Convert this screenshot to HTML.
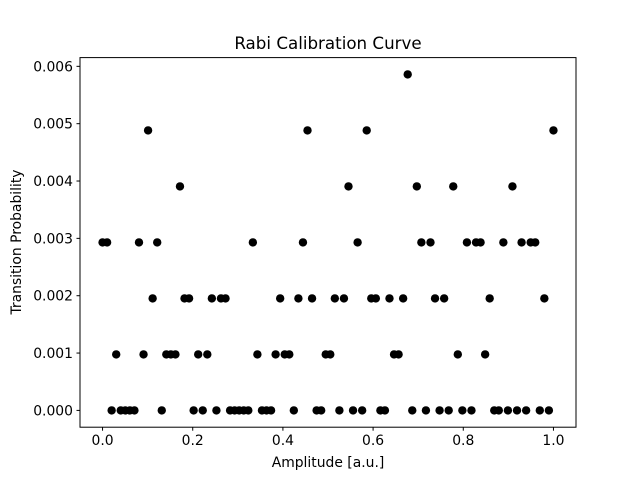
<!DOCTYPE html>
<html><head><meta charset="utf-8"><style>
html,body{margin:0;padding:0;background:#fff;}
svg{display:block;font-family:"DejaVu Sans","Liberation Sans",sans-serif;}
</style></head><body>
<svg id="chart" width="640" height="480" viewBox="0 0 640 480" xmlns="http://www.w3.org/2000/svg">
<rect width="640" height="480" fill="#fff"/>
<text x="328" y="49" text-anchor="middle" font-size="16.7">Rabi Calibration Curve</text>
<text x="328" y="467" text-anchor="middle" font-size="13.9">Amplitude [a.u.]</text>
<text transform="translate(21,242) rotate(-90)" text-anchor="middle" font-size="13.9">Transition Probability</text>
<g id="ticks"></g>
<g id="points"></g>
<rect x="80" y="57.6" width="496" height="369.6" fill="none" stroke="#000" stroke-width="1"/>
</svg>
<script>
const counts = [3,3,0,1,0,0,0,0,3,1,
5,2,3,0,1,1,1,4,2,2,
0,1,0,1,2,0,2,2,0,0,
0,0,0,3,1,0,0,0,1,2,
1,1,0,2,3,5,2,0,0,1,
1,2,0,2,4,0,3,0,5,2,
2,0,0,2,1,1,2,6,0,4,
3,0,3,2,0,2,0,4,1,0,
3,0,3,3,1,2,0,0,3,0,
4,0,3,0,3,3,0,2,0,5];
const shots = 1024;
const xTicks = [0, 0.2, 0.4, 0.6, 0.8, 1.0];
const xTickLabels = ["0.0","0.2","0.4","0.6","0.8","1.0"];
const yTicks = [0, 0.001, 0.002, 0.003, 0.004, 0.005, 0.006];
const yTickLabels = ["0.000","0.001","0.002","0.003","0.004","0.005","0.006"];

const NS = "http://www.w3.org/2000/svg";
const N = counts.length;
const amps = counts.map((c, i) => i / (N - 1));
const probs = counts.map(c => c / shots);
const L = 80, R = 576, T = 57.6, B = 427.2;
const xMin = -0.05, xMax = 1.05;
const yMaxData = Math.max(...probs), yMinData = Math.min(...probs);
const yPad = (yMaxData - yMinData) * 0.05;
const yMin = yMinData - yPad, yMax = yMaxData + yPad;
const sx = v => L + (v - xMin) / (xMax - xMin) * (R - L);
const sy = v => B - (v - yMin) / (yMax - yMin) * (B - T);

const tg = document.getElementById('ticks');
xTicks.forEach((t, i) => {
  const x = sx(t);
  const ln = document.createElementNS(NS, 'line');
  ln.setAttribute('x1', x); ln.setAttribute('x2', x);
  ln.setAttribute('y1', B); ln.setAttribute('y2', B + 3.5);
  ln.setAttribute('stroke', '#000');
  
  
  tg.appendChild(ln);
  const tx = document.createElementNS(NS, 'text');
  tx.setAttribute('x', x); tx.setAttribute('y', B + 18);
  tx.setAttribute('text-anchor', 'middle'); tx.setAttribute('font-size', '13.9');
  tx.textContent = xTickLabels[i];
  
  
  tg.appendChild(tx);
});
yTicks.forEach((t, i) => {
  const y = sy(t);
  const ln = document.createElementNS(NS, 'line');
  ln.setAttribute('x1', L - 3.5); ln.setAttribute('x2', L);
  ln.setAttribute('y1', y); ln.setAttribute('y2', y);
  ln.setAttribute('stroke', '#000');
  
  
  tg.appendChild(ln);
  const tx = document.createElementNS(NS, 'text');
  tx.setAttribute('x', L - 7); tx.setAttribute('y', y + 5);
  tx.setAttribute('text-anchor', 'end'); tx.setAttribute('font-size', '13.9');
  tx.textContent = yTickLabels[i];
  
  
  tg.appendChild(tx);
});
const pg = document.getElementById('points');
amps.forEach((a, i) => {
  const c = document.createElementNS(NS, 'circle');
  c.setAttribute('cx', sx(a)); c.setAttribute('cy', sy(probs[i]));
  c.setAttribute('r', 4.2); c.setAttribute('fill', '#000');
  
  
  pg.appendChild(c);
});
</script>
</body></html>
